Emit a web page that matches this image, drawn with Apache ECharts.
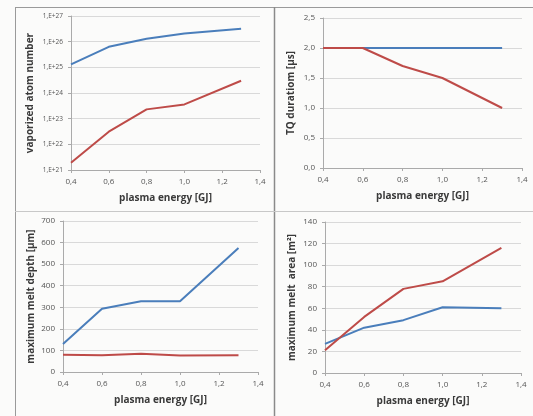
<!DOCTYPE html>
<html><head><meta charset="utf-8">
<script src="https://cdn.jsdelivr.net/npm/echarts@6/dist/echarts.min.js"></script>
<style>html,body{margin:0;padding:0;background:#fbfbfa;}#c{width:533px;height:416px;}</style>
</head><body><div id="c"></div>
<script>
const energy = [0.4, 0.6, 0.8, 1.0, 1.3];
const xTicks = [0.4, 0.6, 0.8, 1.0, 1.2, 1.4];
const atomsBlue = [1.3e25, 6.3e25, 1.3e26, 2.1e26, 3.2e26];
const atomsRed = [1.9e21, 3.1e22, 2.3e23, 3.6e23, 3.0e24];
const tqBlue = [2.0, 2.0, 2.0, 2.0, 2.0];
const tqRed = [2.0, 2.0, 1.7, 1.5, 1.0];
const depthBlue = [130, 293, 328, 328, 575];
const depthRed = [80, 78, 85, 76, 78];
const areaBlue = [27, 42, 49, 61, 60];
const areaRed = [21, 52, 78, 85, 116];
const xName = 'plasma energy [GJ]';
const yNames = ['vaporized atom number', 'TQ duratiom [µs]', 'maximum melt depth [µm]', 'maximum melt  area [m²]'];

const BLUE = '#4a7ebb', RED = '#be4b48';
const FONT = '"Open Sans", "DejaVu Sans", sans-serif';
const grids = [
  {left: 71, right: 273, top: 16, bottom: 246},
  {left: 323, right: 11, top: 18, bottom: 248},
  {left: 63, right: 275, top: 221, bottom: 44},
  {left: 325, right: 12, top: 222, bottom: 43}
];
const comma = (v, d) => v.toFixed(d).replace('.', ',');
const zip = (a) => energy.map((x, i) => [x, a[i]]);

const xAxes = grids.map((g, i) => ({
  type: 'value', gridIndex: i, min: xTicks[0], max: xTicks[xTicks.length - 1], interval: 0.2,
  name: xName, nameLocation: 'middle', nameGap: 23,
  nameTextStyle: {fontFamily: FONT, fontSize: 10, fontWeight: 'bold', color: '#3a3a3a'},
  axisLine: {lineStyle: {color: '#aaaaaa'}},
  axisTick: {show: true, length: 3, lineStyle: {color: '#aaaaaa'}},
  axisLabel: {fontFamily: FONT, fontSize: 8, color: '#555', formatter: v => comma(v, 1), margin: 8},
  splitLine: {show: false}
}));
const yBase = (i) => ({
  gridIndex: i, name: yNames[i], nameLocation: 'middle',
  nameTextStyle: {fontFamily: FONT, fontSize: 10, fontWeight: 'bold', color: '#3a3a3a'},
  axisLine: {show: true, lineStyle: {color: '#aaaaaa'}},
  axisTick: {show: true, length: 3, lineStyle: {color: '#aaaaaa'}},
  axisLabel: {fontFamily: FONT, fontSize: 8, color: '#555'},
  splitLine: {show: true, lineStyle: {color: '#d9d9d9'}}
});
const yAxes = [
  Object.assign(yBase(0), {type: 'log', logBase: 10, min: 1e21, max: 1e27, nameGap: 36,
    axisLabel: {fontFamily: FONT, fontSize: 6.5, color: '#555', formatter: v => '1,E+' + Math.round(Math.log10(v))}}),
  Object.assign(yBase(1), {type: 'value', min: 0, max: 2.5, interval: 0.5, nameGap: 27,
    axisLabel: {fontFamily: FONT, fontSize: 8, color: '#555', formatter: v => comma(v, 1)}}),
  Object.assign(yBase(2), {type: 'value', min: 0, max: 700, interval: 100, nameGap: 27}),
  Object.assign(yBase(3), {type: 'value', min: 0, max: 140, interval: 20, nameGap: 28})
];
const line = (i, data, color) => ({
  type: 'line', xAxisIndex: i, yAxisIndex: i, data: zip(data), symbol: 'none',
  lineStyle: {color: color, width: 2}, itemStyle: {color: color}, animation: false
});
const series = [
  line(0, atomsBlue, BLUE), line(0, atomsRed, RED),
  line(1, tqBlue, BLUE), line(1, tqRed, RED),
  line(2, depthBlue, BLUE), line(2, depthRed, RED),
  line(3, areaBlue, BLUE), line(3, areaRed, RED)
];
const frame = {stroke: '#9a9a9a', lineWidth: 1};
const chart = echarts.init(document.getElementById('c'), null, {renderer: 'canvas'});
chart.setOption({
  animation: false,
  backgroundColor: '#fbfbfa',
  grid: grids,
  xAxis: xAxes, yAxis: yAxes, series: series,
  graphic: [
    {type: 'line', shape: {x1: 15, y1: 7.5, x2: 533, y2: 7.5}, style: frame, silent: true},
    {type: 'line', shape: {x1: 15.5, y1: 7, x2: 15.5, y2: 416}, style: frame, silent: true},
    {type: 'line', shape: {x1: 274.5, y1: 7, x2: 274.5, y2: 416}, style: {stroke: '#8a8a8a', lineWidth: 1.5}, silent: true},
    {type: 'line', shape: {x1: 15, y1: 211.5, x2: 533, y2: 211.5}, style: {stroke: '#c8c8c8', lineWidth: 1}, silent: true}
  ]
});
</script></body></html>
